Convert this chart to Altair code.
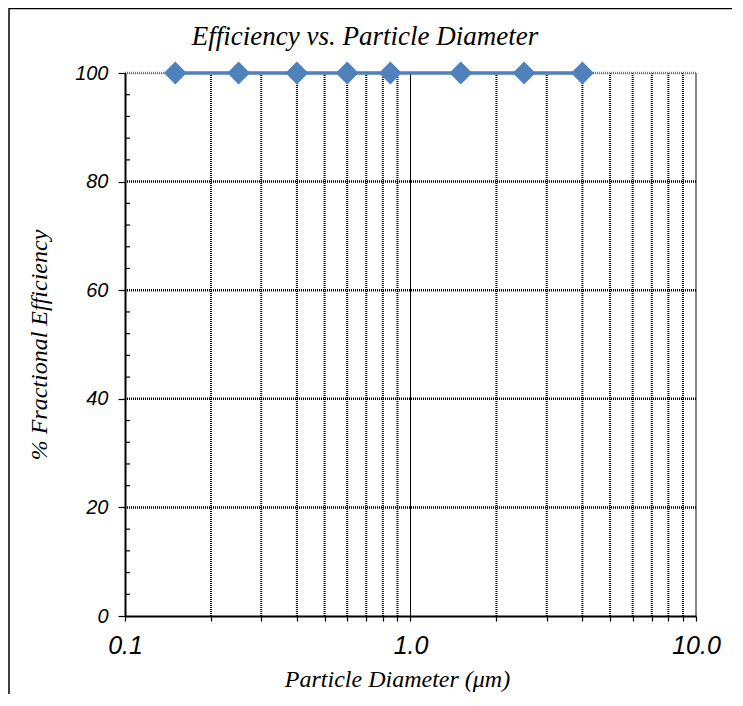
import altair as alt
import pandas as pd

# Data
diameter = [0.15, 0.25, 0.4, 0.6, 0.85, 1.5, 2.5, 4.0]
efficiency = [100, 100, 100, 100, 100, 100, 100, 100]

x_ticks = [0.1, 0.2, 0.3, 0.4, 0.5, 0.6, 0.7, 0.8, 0.9,
           1, 2, 3, 4, 5, 6, 7, 8, 9, 10]
x_minor_grid = [0.2, 0.3, 0.4, 0.5, 0.6, 0.7, 0.8, 0.9,
                2, 3, 4, 5, 6, 7, 8, 9]
x_one = [1]
x_right = [10]
y_major = [0, 20, 40, 60, 80, 100]
y_grid = [20, 40, 60, 80]
y_top = [100]
y_minor = [4, 8, 12, 16, 24, 28, 32, 36, 44, 48, 52, 56,
           64, 68, 72, 76, 84, 88, 92, 96]
title_text = ["Efficiency vs. Particle Diameter"]

W, H = 571, 543

xs = alt.Scale(type="log", domain=[0.1, 10], nice=False)
ys = alt.Scale(domain=[0, 100], nice=False)

xaxis = alt.Axis(
    values=x_ticks,
    labelExpr="datum.value == 0.1 ? '0.1' : (datum.value == 1 ? '1.0' : (datum.value == 10 ? '10.0' : ''))",
    grid=False, tickSize=5, tickColor="black", tickWidth=1.2,
    domainColor="black", domainWidth=2, labelFlush=False,
    labelFont="Liberation Sans", labelFontStyle="italic", labelFontSize=25,
    labelColor="black", labelPadding=12,
    title="Particle Diameter (μm)", titleFont="Liberation Serif",
    titleFontStyle="italic", titleFontWeight="normal", titleFontSize=24,
    titleColor="black", titleX=272, titleY=70, titleBaseline="alphabetic",
    zindex=2,
)
yaxis = alt.Axis(
    values=y_major, grid=False, tickSize=7, tickColor="black", tickWidth=1.2,
    domainColor="black", domainWidth=2,
    labelFont="Liberation Sans", labelFontStyle="italic", labelFontSize=20,
    labelColor="black", labelPadding=10,
    title="% Fractional Efficiency", titleFont="Liberation Serif",
    titleFontStyle="italic", titleFontWeight="normal", titleFontSize=24,
    titleColor="black", titleX=-79, titleY=H / 2, titleAngle=-90,
    titleBaseline="alphabetic", titleAlign="center",
    zindex=2,
)

X = lambda: alt.X("d:Q", scale=xs, axis=xaxis)
Y = lambda: alt.Y("e:Q", scale=ys, axis=yaxis)

df_pts = pd.DataFrame({"d": diameter, "e": efficiency})
df_vgrid = pd.DataFrame({"d": x_minor_grid})
df_vone = pd.DataFrame({"d": x_one})
df_vright = pd.DataFrame({"d": x_right})
df_hgrid = pd.DataFrame({"e": y_grid})
df_htop = pd.DataFrame({"e": y_top})
df_yminor = pd.DataFrame({"e": y_minor})
df_title = pd.DataFrame({"t": title_text})

vgrid = alt.Chart(df_vgrid).mark_rule(
    color="black", strokeWidth=2, strokeDash=[1, 1]
).encode(x=X(), y=alt.value(0), y2=alt.value(H))

vone = alt.Chart(df_vone).mark_rule(color="black", strokeWidth=1).encode(
    x=X(), y=alt.value(0), y2=alt.value(H))

vright = alt.Chart(df_vright).mark_rule(color="#888", strokeWidth=2).encode(
    x=X(), y=alt.value(0), y2=alt.value(H))

hgrid = alt.Chart(df_hgrid).mark_rule(
    color="black", strokeWidth=2.5, strokeDash=[1, 1]
).encode(y=Y(), x=alt.value(0), x2=alt.value(W))

htop = alt.Chart(df_htop).mark_rule(
    color="#777", strokeWidth=2.5, strokeDash=[1, 1]
).encode(y=Y(), x=alt.value(0), x2=alt.value(W))

yminor = alt.Chart(df_yminor).mark_rule(color="black", strokeWidth=1.2).encode(
    y=Y(), x=alt.value(0), x2=alt.value(5))

frame = alt.Chart(pd.DataFrame({"k": [0]})).mark_rect(
    fill=None, stroke="black", strokeWidth=1.5, clip=False
).encode(x=alt.value(-116), x2=alt.value(W + 80),
         y=alt.value(-64.5), y2=alt.value(H + 120))

title = alt.Chart(df_title).mark_text(
    font="Liberation Serif", fontStyle="italic", fontSize=27, color="black",
    align="center", baseline="alphabetic"
).encode(text="t:N", x=alt.value(240), y=alt.value(-28))

line = alt.Chart(df_pts).mark_line(color="#4F81BD", strokeWidth=3.5).encode(
    x=X(), y=Y())
pts = alt.Chart(df_pts).mark_point(
    shape="diamond", filled=True, size=520, color="#4F81BD", opacity=1
).encode(x=X(), y=Y())

chart = alt.layer(
    frame, vgrid, vone, vright, hgrid, htop, yminor, line, pts, title
).properties(
    width=W, height=H,
    autosize=alt.AutoSizeParams(type="none"),
    padding={"left": 117, "top": 65, "right": 36, "bottom": 78},
).configure_view(stroke=None).configure(background="white")

chart.save("out.html", embed_options={"renderer": "svg", "actions": False})
